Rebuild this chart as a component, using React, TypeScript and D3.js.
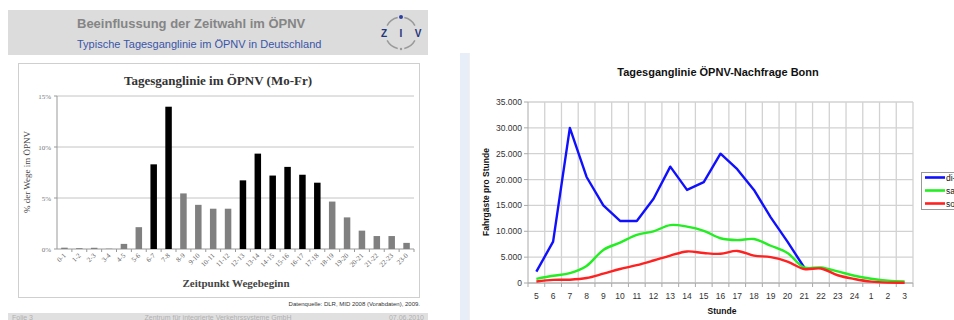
import React from "react";
import * as d3 from "d3";

// ---- Left chart data (Tagesganglinie im ÖPNV, Mo-Fr) ----
const hoursLeft = ["0-1","1-2","2-3","3-4","4-5","5-6","6-7","7-8","8-9","9-10","10-11","11-12","12-13","13-14","14-15","15-16","16-17","17-18","18-19","19-20","20-21","21-22","22-23","23-0"];
const shareLeft = [0.13,0.08,0.12,0.03,0.5,2.14,8.3,13.95,5.45,4.33,3.95,3.95,6.73,9.35,7.2,8.05,7.28,6.5,4.65,3.1,1.8,1.27,1.27,0.6];
const peakHours = ["6-7","7-8","12-13","13-14","14-15","15-16","16-17","17-18"];
const ticksLeft = [0,5,10,15];

// ---- Right chart data (Tagesganglinie ÖPNV-Nachfrage Bonn) ----
const hoursRight = ["5","6","7","8","9","10","11","12","13","14","15","16","17","18","19","20","21","22","23","24","1","2","3"];
const diDo = [2200,8000,30000,20500,15000,12000,12000,16300,22500,18000,19500,25000,22000,18000,12700,8000,3000];
const sa = [800,1400,1900,3300,6400,7800,9300,10000,11200,10900,10100,8650,8300,8500,7200,5800,3000,3000,2250,1400,830,450,320];
const so = [300,600,640,960,1800,2700,3450,4350,5300,6100,5800,5650,6200,5300,5000,4150,2700,2800,1500,770,260,80,60];
const ticksRight = [0,5000,10000,15000,20000,25000,30000,35000];
const tickLabelsRight = ["0","5.000","10.000","15.000","20.000","25.000","30.000","35.000"];
const seriesNames = ["di-do","sa","so"];
const seriesColors = ["#1010ff","#22ee22","#ff2020"];

const serif = "'Liberation Serif', 'DejaVu Serif', serif";
const sans = "'Liberation Sans', Arial, sans-serif";

export default function App() {
  // left scales
  const xL = d3.scaleBand<string>().domain(hoursLeft).range([57, 414]);
  const yL = d3.scaleLinear().domain([0, 15]).range([249, 96]);
  // right scales
  const xR = d3.scaleBand<string>().domain(hoursRight).range([528, 913]);
  const yR = d3.scaleLinear().domain([0, 35000]).range([283, 102]);
  const cx = (h: string) => (xR(h) as number) + xR.bandwidth() / 2;

  const lineStraight = d3.line<number>().x((_, i) => cx(hoursRight[i])).y((v) => yR(v));
  const lineSmooth = d3.line<number>().x((_, i) => cx(hoursRight[i])).y((v) => yR(v)).curve(d3.curveCatmullRom.alpha(0.5));
  const seriesData = [diDo, sa, so];

  const arc = d3.arc();
  const logoSegs: [number, number][] = [[-62, -12], [12, 62], [118, 168], [192, 242]];

  const bw = 6.5;

  return (
    <svg width={954} height={320} style={{ position: "absolute", left: 0, top: 0, background: "#fff" }}>
      {/* ===== LEFT PANEL ===== */}
      <rect x={8} y={10} width={420} height={45} fill="#dcdcdc" />
      <text x={77} y={28} fontFamily={sans} fontSize={13} fontWeight="bold" fill="#858585">Beeinflussung der Zeitwahl im ÖPNV</text>
      <text x={77} y={48} fontFamily={sans} fontSize={11} fill="#3a55a8">Typische Tagesganglinie im ÖPNV in Deutschland</text>
      {/* ZIV logo */}
      <g transform="translate(401,33)">
        {logoSegs.map(([a0, a1], i) => (
          <path key={i} d={arc({ innerRadius: 15, outerRadius: 16.5, startAngle: (a0 * Math.PI) / 180, endAngle: (a1 * Math.PI) / 180 }) as string} fill="#9a9a9a" />
        ))}
        <circle cx={0} cy={-16} r={2} fill="#2a3fa0" />
        <circle cx={0} cy={16} r={1.2} fill="#999" />
        <text x={-17} y={4} fontFamily={sans} fontSize={10} fontWeight="bold" fill="#23357a" textAnchor="middle">Z</text>
        <text x={0} y={4} fontFamily={sans} fontSize={10} fontWeight="bold" fill="#23357a" textAnchor="middle">I</text>
        <text x={17} y={4} fontFamily={sans} fontSize={10} fontWeight="bold" fill="#23357a" textAnchor="middle">V</text>
      </g>

      <rect x={18.5} y={63.5} width={401} height={234} fill="#fff" stroke="#cfcfcf" />
      <text x={218} y={85} fontFamily={serif} fontSize={13} fontWeight="bold" fill="#333" textAnchor="middle">Tagesganglinie im ÖPNV (Mo-Fr)</text>

      {ticksLeft.map((t) => (
        <g key={t}>
          <line x1={57} x2={414} y1={yL(t)} y2={yL(t)} stroke={t === 0 ? "#999" : "#c4c4c4"} strokeWidth={1} />
          <line x1={54} x2={57} y1={yL(t)} y2={yL(t)} stroke="#999" />
          <text x={51} y={yL(t) + 2.5} fontFamily={serif} fontSize={7} fill="#777" textAnchor="end">{t}%</text>
        </g>
      ))}
      <line x1={57} x2={57} y1={96} y2={249} stroke="#999" />
      {hoursLeft.map((h, i) => {
        const x = xL(h) as number;
        const c = x + xL.bandwidth() / 2;
        const peak = peakHours.includes(h);
        return (
          <g key={h}>
            <line x1={x + xL.bandwidth()} x2={x + xL.bandwidth()} y1={249} y2={252} stroke="#999" />
            <rect x={c - bw / 2} y={yL(shareLeft[i])} width={bw} height={yL(0) - yL(shareLeft[i])} fill={peak ? "#000" : "#808080"} />
            <text transform={`translate(${c + 2},${256}) rotate(-45)`} fontFamily={serif} fontSize={7} fill="#666" textAnchor="end">{h}</text>
          </g>
        );
      })}
      <text transform="translate(30,172) rotate(-90)" fontFamily={serif} fontSize={9} fill="#444" textAnchor="middle">% der Wege im ÖPNV</text>
      <text x={236} y={287} fontFamily={serif} fontSize={11} fontWeight="bold" fill="#444" textAnchor="middle">Zeitpunkt Wegebeginn</text>
      <text x={420} y={306} fontFamily={sans} fontSize={6} fill="#333" textAnchor="end">Datenquelle: DLR, MID 2008 (Vorabdaten), 2009.</text>

      <rect x={8} y={313} width={420} height={7} fill="#e0e0e0" />
      <text x={12} y={320} fontFamily={sans} fontSize={7} fill="#b0b0b0">Folie 3</text>
      <text x={218} y={320} fontFamily={sans} fontSize={7} fill="#b0b0b0" textAnchor="middle">Zentrum für integrierte Verkehrssysteme GmbH</text>
      <text x={424} y={320} fontFamily={sans} fontSize={7} fill="#b0b0b0" textAnchor="end">07.06.2010</text>

      {/* ===== RIGHT PANEL ===== */}
      <rect x={460} y={53} width={9} height={267} fill="#e8eef8" />
      <line x1={469.5} x2={469.5} y1={53} y2={320} stroke="#f0f0f0" />
      <text x={718} y={76} fontFamily={sans} fontSize={11} fontWeight="bold" fill="#111" textAnchor="middle">Tagesganglinie ÖPNV-Nachfrage Bonn</text>

      {ticksRight.map((t, i) => (
        <g key={t}>
          <line x1={528} x2={913} y1={yR(t)} y2={yR(t)} stroke="#d2d2d2" strokeWidth={1.3} />
          <line x1={524} x2={528} y1={yR(t)} y2={yR(t)} stroke="#aaa" />
          <text x={522} y={yR(t) + 3} fontFamily={sans} fontSize={8.5} fill="#333" textAnchor="end">{tickLabelsRight[i]}</text>
        </g>
      ))}
      {hoursRight.map((h) => {
        const x = (xR(h) as number) + xR.bandwidth();
        return (
          <g key={h}>
            <line x1={x} x2={x} y1={102} y2={283} stroke="#d2d2d2" strokeWidth={1.3} />
            <line x1={x} x2={x} y1={283} y2={287} stroke="#aaa" />
            <text x={cx(h)} y={299} fontFamily={sans} fontSize={8.5} fill="#333" textAnchor="middle">{h}</text>
          </g>
        );
      })}
      <line x1={528} x2={528} y1={102} y2={287} stroke="#aaa" />
      <line x1={528} x2={913} y1={283} y2={283} stroke="#aaa" />

      {seriesData.map((d, i) => (
        <path key={i} d={(i === 0 ? lineStraight(d) : lineSmooth(d)) as string} fill="none" stroke={seriesColors[i]} strokeWidth={2.4} strokeLinejoin="round" />
      ))}

      <text transform="translate(489,192) rotate(-90)" fontFamily={sans} fontSize={8.5} fontWeight="bold" fill="#111" textAnchor="middle">Fahrgäste pro Stunde</text>
      <text x={722} y={314} fontFamily={sans} fontSize={8.5} fontWeight="bold" fill="#111" textAnchor="middle">Stunde</text>

      <rect x={921.5} y={172.5} width={50} height={37} fill="#fff" stroke="#999" />
      {seriesNames.map((n, i) => (
        <g key={n}>
          <line x1={925} x2={945} y1={177.5 + i * 13} y2={177.5 + i * 13} stroke={seriesColors[i]} strokeWidth={2.6} />
          <text x={946} y={180.5 + i * 13} fontFamily={sans} fontSize={8.5} fill="#111">{n}</text>
        </g>
      ))}
    </svg>
  );
}
